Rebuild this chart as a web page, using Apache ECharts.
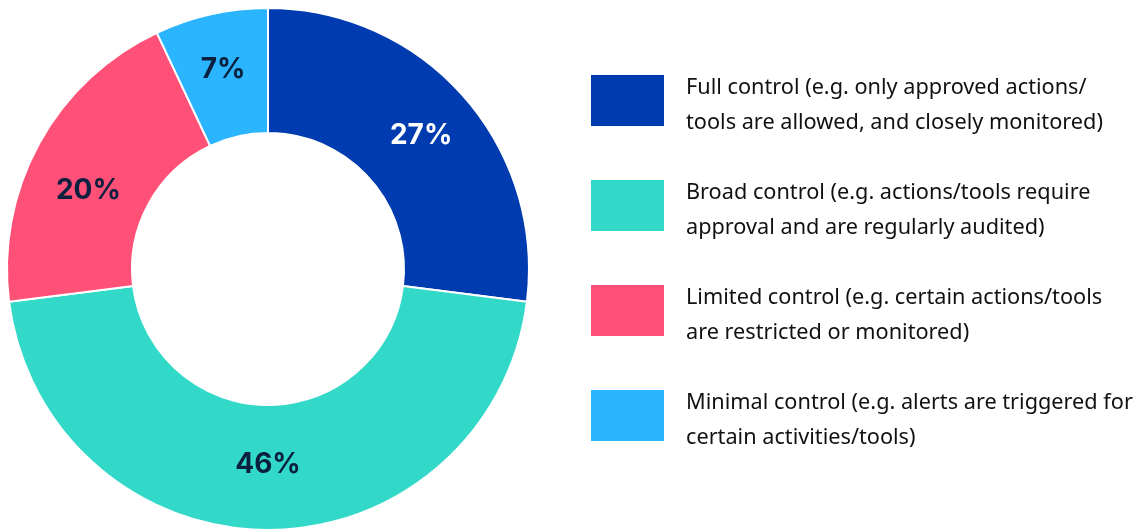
<!DOCTYPE html>
<html>
<head>
<meta charset="utf-8">
<script src="https://cdn.jsdelivr.net/npm/echarts@6/dist/echarts.min.js"></script>
<style>
  html, body { margin: 0; padding: 0; background: #fff; }
  #chart { width: 1138px; height: 530px; }
</style>
</head>
<body>
<div id="chart"></div>
<script>
// categories and shares (%)
var categories = [
  'Full control (e.g. only approved actions/\ntools are allowed, and closely monitored)',
  'Broad control (e.g. actions/tools require\napproval and are regularly audited)',
  'Limited control (e.g. certain actions/tools\nare restricted or monitored)',
  'Minimal control (e.g. alerts are triggered for\ncertain activities/tools)'
];
var values = [27, 46, 20, 7];
var colors = ['#003cb0', '#33d9c8', '#ff5078', '#2bb5ff'];
var labelColors = ['#ffffff', '#0b1f3f', '#0b1f3f', '#0b1f3f'];
// small nudges so the % labels sit where the original puts them
var labelOffsets = [[2, 0], [0, -6], [-3, 19], [-1, -3]];

var pieData = [];
for (var i = 0; i < categories.length; i++) {
  pieData.push({
    name: categories[i],
    value: values[i],
    itemStyle: { color: colors[i] },
    label: { color: labelColors[i], offset: labelOffsets[i] }
  });
}

var chart = echarts.init(document.getElementById('chart'));
chart.setOption({
  animation: false,
  legend: {
    orient: 'vertical',
    left: 584,
    top: 60,
    icon: 'rect',
    itemWidth: 75,
    itemHeight: 53,
    itemGap: 36,
    selectedMode: false,
    // a thin spacer line on top pushes the two text lines a bit below the swatch centre
    formatter: function (name) {
      var lines = name.split('\n');
      return '{s| }\n{t|' + lines[0] + '}\n{t|' + lines[1] + '}';
    },
    textStyle: {
      color: '#111111',
      padding: [0, 0, 0, 16],
      rich: {
        s: { fontSize: 1, lineHeight: 10 },
        t: { fontFamily: 'Noto Sans', fontSize: 21.7, lineHeight: 35, color: '#111111' }
      }
    },
    data: categories
  },
  series: [{
    type: 'pie',
    center: [268, 269],
    radius: [136, 261],
    startAngle: 90,
    clockwise: true,
    itemStyle: { borderColor: '#ffffff', borderWidth: 2 },
    label: {
      position: 'inside',
      formatter: '{c}%',
      fontFamily: 'Inter',
      fontWeight: 'bold',
      fontSize: 28
    },
    labelLine: { show: false },
    emphasis: { disabled: true },
    data: pieData
  }]
});
</script>
</body>
</html>
